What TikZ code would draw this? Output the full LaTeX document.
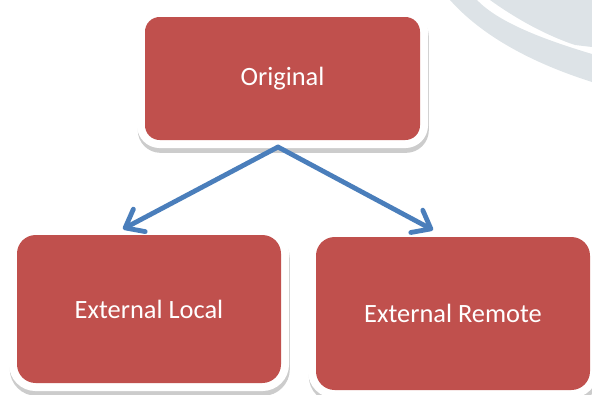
\documentclass[tikz,border=0pt]{standalone}
\usepackage{fontspec}
\setmainfont{Carlito}
\usetikzlibrary{arrows.meta}

\definecolor{stagered}{RGB}{192,80,77}
\definecolor{flowblue}{RGB}{74,126,187}
\definecolor{markgray}{RGB}{221,227,231}
\definecolor{shadegray}{RGB}{204,204,204}

\tikzset{every picture/.style={line width=0.75pt}}
\tikzset{
	stagebox/.style={fill=stagered, rounded corners=11pt, inner sep=0pt, text=white,
		font=\fontsize{19.8}{24}\selectfont,
		preaction={draw=shadegray, line width=12pt, transform canvas={xshift=0.6pt,yshift=-3.6pt}},
		preaction={draw=white, line width=12pt}},
	flowarrow/.style={draw=flowblue, line width=3.6pt, line cap=round, line join=round,
		-{Straight Barb[length=12pt,width=19pt,round]}}
}

\begin{document}
\begin{tikzpicture}[x=0.75pt,y=0.75pt,yscale=-1,xscale=1]
	\useasboundingbox (0,0) rectangle (592,394);

	%Shape: watermark band
	\fill [markgray] (450,0) .. controls (482,36) and (532,63) .. (592,82) -- (592,54) .. controls (542,39) and (498,22) .. (477,0) -- cycle ;
	%Shape: watermark top
	\fill [markgray] (490,0) .. controls (515,18) and (545,35) .. (575,45) -- (592,47) -- (592,0) -- cycle ;

	% Stage Nodes
	\node [stagebox, minimum width=206.25pt, minimum height=92.25pt] (orig) at (282.5,78.5) {Original};
	\node [stagebox, rounded corners=14pt, minimum width=198pt, minimum height=111pt] (local) at (149,309) {External Local};
	\node [stagebox, rounded corners=14pt, minimum width=205.5pt, minimum height=114.75pt] (remote) at (453,313.5) {External Remote};

	% Arrow ends
	\coordinate (split) at (278,147);
	\coordinate (tolocal) at (123,229);
	\coordinate (toremote) at (433,230);

	%Straight Lines
	\draw [flowarrow] (split) -- (tolocal) ;
	\draw [flowarrow] (split) -- (toremote) ;

\end{tikzpicture}
\end{document}
